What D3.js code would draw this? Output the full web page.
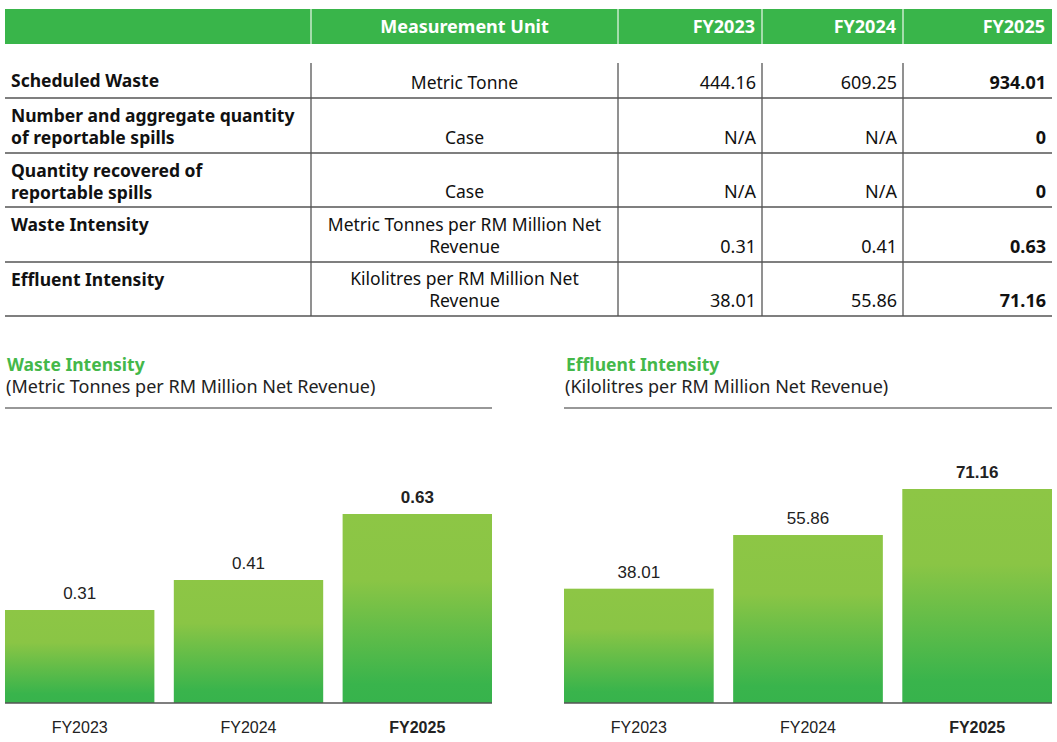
<!DOCTYPE html>
<html>
<head>
<meta charset="utf-8">
<script src="https://cdn.jsdelivr.net/npm/d3@7"></script>
<style>
  body { margin: 0; background: #fff; }
  text { font-family: "Noto Sans", Lato, sans-serif; }
</style>
</head>
<body>
<svg></svg>
<script>
// data
const years = ["FY2023", "FY2024", "FY2025"];
const rowLabels = [
    ["Scheduled Waste"],
    ["Number and aggregate quantity", "of reportable spills"],
    ["Quantity recovered of", "reportable spills"],
    ["Waste Intensity"],
    ["Effluent Intensity"]
];
const rowUnits = [
    ["Metric Tonne"],
    ["Case"],
    ["Case"],
    ["Metric Tonnes per RM Million Net", "Revenue"],
    ["Kilolitres per RM Million Net", "Revenue"]
];
const rowValues = [
    ["444.16", "609.25", "934.01"],
    ["N/A", "N/A", "0"],
    ["N/A", "N/A", "0"],
    ["0.31", "0.41", "0.63"],
    ["38.01", "55.86", "71.16"]
];
const wasteIntensity = [0.31, 0.41, 0.63];
const effluentIntensity = [38.01, 55.86, 71.16];

const width = 1057, height = 742;
const green = "#39b54a";

const svg = d3.select("svg")
    .attr("width", width)
    .attr("height", height);

// gradient for bars
const grad = svg.append("defs").append("linearGradient")
    .attr("id", "barGrad")
    .attr("x1", 0).attr("y1", 0).attr("x2", 0).attr("y2", 1);
grad.append("stop").attr("offset", "0%").attr("stop-color", "#8dc645");
grad.append("stop").attr("offset", "35%").attr("stop-color", "#8ac545");
grad.append("stop").attr("offset", "90%").attr("stop-color", "#39b44c");
grad.append("stop").attr("offset", "100%").attr("stop-color", "#37b34c");

// ---- table ----
const colEdges = [5, 311, 618, 762, 903, 1052];
const headerTop = 9, headerBottom = 44;
const rowTops = [63, 98, 153, 207, 262];
const rowBottoms = [98, 153, 207, 262, 316];

svg.append("rect")
    .attr("x", colEdges[0]).attr("y", headerTop)
    .attr("width", colEdges[5] - colEdges[0])
    .attr("height", headerBottom - headerTop)
    .attr("fill", green);

svg.selectAll(".hsep")
    .data(colEdges.slice(1, 5))
    .enter().append("line")
    .attr("x1", d => d).attr("x2", d => d)
    .attr("y1", headerTop).attr("y2", headerBottom)
    .attr("stroke", "#c9ebcd").attr("stroke-width", 1.5);

const head = svg.append("g")
    .attr("fill", "#fff")
    .attr("font-weight", 700)
    .attr("font-size", 18);
head.append("text")
    .attr("x", (colEdges[1] + colEdges[2]) / 2).attr("y", 33)
    .attr("text-anchor", "middle")
    .text("Measurement Unit");
years.forEach((y, i) => {
    head.append("text")
        .attr("x", colEdges[i + 3] - 7).attr("y", 33)
        .attr("text-anchor", "end")
        .text(y);
});

// grid lines
svg.selectAll(".vline")
    .data(colEdges.slice(1, 5))
    .enter().append("line")
    .attr("x1", d => d).attr("x2", d => d)
    .attr("y1", rowTops[0]).attr("y2", rowBottoms[4])
    .attr("stroke", "#6d6d6d").attr("stroke-width", 1.5);

svg.selectAll(".rline")
    .data(rowBottoms)
    .enter().append("line")
    .attr("x1", colEdges[0]).attr("x2", colEdges[5])
    .attr("y1", d => d).attr("y2", d => d)
    .attr("stroke", "#555").attr("stroke-width", 1.5);

const body = svg.append("g").attr("font-size", 18).attr("fill", "#111");
rowLabels.forEach((lines, r) => {
    lines.forEach((t, k) => {
        body.append("text")
            .attr("x", 11).attr("y", rowTops[r] + 24 + k * 22)
            .attr("font-weight", 700)
            .attr("font-size", 17.5)
            .text(t);
    });
    const units = rowUnits[r];
    units.forEach((t, k) => {
        body.append("text")
            .attr("x", (colEdges[1] + colEdges[2]) / 2)
            .attr("y", rowBottoms[r] - 9 - (units.length - 1 - k) * 22)
            .attr("text-anchor", "middle")
            .attr("font-size", 17.5)
            .text(t);
    });
    rowValues[r].forEach((v, i) => {
        body.append("text")
            .attr("x", colEdges[i + 3] - 6)
            .attr("y", rowBottoms[r] - 9)
            .attr("text-anchor", "end")
            .attr("font-weight", i === 2 ? 700 : 400)
            .text(v);
    });
});

// ---- bar charts ----
function barChart(opts) {
    const g = svg.append("g");
    const baseY = 703;

    g.append("text")
        .attr("x", opts.x0 + 2).attr("y", 371)
        .attr("fill", "#44b84a")
        .attr("font-weight", 700)
        .attr("font-size", 17.5)
        .text(opts.title);
    g.append("text")
        .attr("x", opts.x0 + 1).attr("y", 393)
        .attr("fill", "#222")
        .attr("font-size", 18)
        .text(opts.subtitle);
    g.append("line")
        .attr("x1", opts.x0).attr("x2", opts.x1)
        .attr("y1", 408).attr("y2", 408)
        .attr("stroke", "#333").attr("stroke-width", 1.2);

    const x = d3.scaleBand()
        .domain(years)
        .range([opts.x0, opts.x1])
        .paddingInner(0.115)
        .paddingOuter(0);

    const y = d3.scaleLinear()
        .domain([0, opts.max])
        .range([baseY, baseY - opts.pxPerMax]);

    g.selectAll(".bar")
        .data(opts.values)
        .enter().append("rect")
        .attr("x", (d, i) => x(years[i]))
        .attr("y", d => y(d))
        .attr("width", x.bandwidth())
        .attr("height", d => baseY - y(d))
        .attr("fill", "url(#barGrad)");

    g.append("line")
        .attr("x1", opts.x0).attr("x2", opts.x1)
        .attr("y1", baseY).attr("y2", baseY)
        .attr("stroke", "#555").attr("stroke-width", 1.5);

    g.selectAll(".val")
        .data(opts.values)
        .enter().append("text")
        .attr("x", (d, i) => x(years[i]) + x.bandwidth() / 2)
        .attr("y", d => y(d) - 11)
        .attr("text-anchor", "middle")
        .style("font-family", "'Liberation Sans', Arial, sans-serif")
        .attr("font-size", 17)
        .attr("font-weight", (d, i) => i === 2 ? 700 : 400)
        .attr("fill", "#222")
        .text(d => d.toFixed(2));

    g.selectAll(".xl")
        .data(years)
        .enter().append("text")
        .attr("x", d => x(d) + x.bandwidth() / 2)
        .attr("y", 733)
        .attr("text-anchor", "middle")
        .style("font-family", "'Liberation Sans', Arial, sans-serif")
        .attr("font-size", 16)
        .attr("font-weight", (d, i) => i === 2 ? 700 : 400)
        .attr("fill", "#222")
        .text(d => d);
}

barChart({
    x0: 5, x1: 492,
    title: "Waste Intensity",
    subtitle: "(Metric Tonnes per RM Million Net Revenue)",
    values: wasteIntensity,
    max: 0.63, pxPerMax: 189
});

barChart({
    x0: 564, x1: 1052,
    title: "Effluent Intensity",
    subtitle: "(Kilolitres per RM Million Net Revenue)",
    values: effluentIntensity,
    max: 71.16, pxPerMax: 214
});
</script>
</body>
</html>
